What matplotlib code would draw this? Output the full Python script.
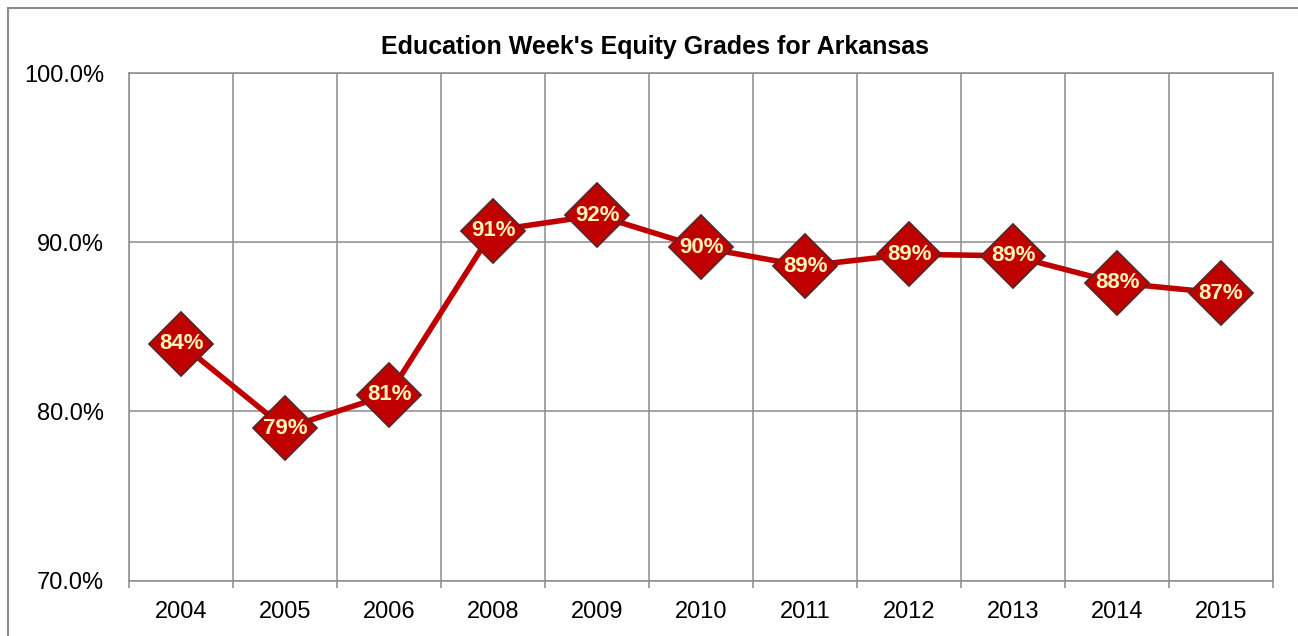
import numpy as np
import matplotlib
matplotlib.use('Agg')
import matplotlib.pyplot as plt
from matplotlib.patches import Rectangle

# data
years = ['2004', '2005', '2006', '2008', '2009', '2010', '2011', '2012', '2013', '2014', '2015']
grades = [84.0, 79.0, 81.0, 90.7, 91.6, 89.7, 88.6, 89.3, 89.2, 87.6, 87.0]
yticks = [70, 80, 90, 100]

plt.rcParams['font.family'] = ['Liberation Sans Narrow', 'Liberation Sans', 'DejaVu Sans']

W, H = 1298, 636
fig = plt.figure(figsize=(W / 100, H / 100), dpi=100)

# outer chart frame (left and top edges visible)
fig.patches.append(Rectangle((8 / W, -0.1), 1.2, 1.1 - 8 / H, transform=fig.transFigure,
                             fill=False, edgecolor='#8c8c8c', linewidth=1.5))

left, right, top, bottom = 129, 1273, 73.3, 580.5
ax = fig.add_axes([left / W, (H - bottom) / H, (right - left) / W, (bottom - top) / H])

x = np.arange(len(years))
ax.plot(x, grades, color='#c00000', linewidth=4, zorder=3)
ax.plot(x, grades, linestyle='none', marker='D', markersize=32.5,
        markerfacecolor='#c00000', markeredgecolor='#5a2626', markeredgewidth=1.3, zorder=4)
for xi, g in zip(x, grades):
    ax.text(xi, g, '{:.0f}%'.format(g), ha='center', va='center', color='#fff4b8',
            fontsize=16, fontweight='bold', zorder=5)

ax.set_xlim(-0.5, len(years) - 0.5)
ax.set_ylim(70, 100)

ax.set_xticks(x)
ax.set_xticklabels(years, fontsize=17)
ax.set_xticks(np.arange(len(years) + 1) - 0.5, minor=True)
ax.tick_params(axis='x', which='major', length=0, pad=15)
ax.tick_params(axis='x', which='minor', length=5, width=1.1, color='#8c8c8c', direction='out')

ax.set_yticks(yticks)
ax.set_yticklabels(['{:.1f}%'.format(v) for v in yticks], fontsize=17)
ax.tick_params(axis='y', length=0, pad=18)

ax.xaxis.grid(True, which='minor', color='#8c8c8c', linewidth=1.1)
ax.yaxis.grid(True, which='major', color='#8c8c8c', linewidth=1.1)
ax.set_axisbelow(True)
for s in ax.spines.values():
    s.set_color('#8c8c8c')
    s.set_linewidth(1.1)

fig.text(655 / W, 1 - 47 / H, "Education Week's Equity Grades for Arkansas",
         ha='center', va='center', fontsize=18, fontweight='bold')

fig.savefig('out.png', dpi=100)
